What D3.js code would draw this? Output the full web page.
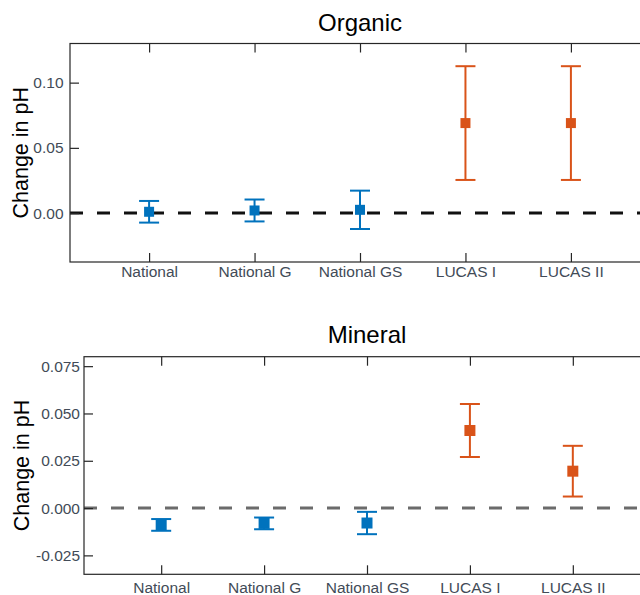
<!DOCTYPE html>
<html>
<head>
<meta charset="utf-8">
<script src="https://cdn.jsdelivr.net/npm/d3@7"></script>
<style>
  body { margin: 0; background: #fff; }
  svg { display: block; font-family: "Liberation Sans", Arial, sans-serif; }
</style>
</head>
<body>
<script>
// categories on the x axis, shared by both panels
var categories = ['National', 'National G', 'National GS', 'LUCAS I', 'LUCAS II'];
var sources = ['national', 'national', 'national', 'lucas', 'lucas'];

// Organic soils: mean change in pH and half-width of the error bar
var organicMean = [0.001, 0.002, 0.0025, 0.069, 0.069];
var organicErr = [0.0083, 0.0084, 0.0147, 0.0436, 0.0436];
var organicTicks = [0, 0.05, 0.10];

// Mineral soils
var mineralMean = [-0.0089, -0.0081, -0.0079, 0.0410, 0.0195];
var mineralErr = [0.0031, 0.0031, 0.0059, 0.0140, 0.0134];
var mineralTicks = [-0.025, 0, 0.025, 0.05, 0.075];

var colors = { national: '#0072BD', lucas: '#D95319' };
var axisColor = '#262626';
var labelColor = '#424b57';

var svg = d3.select('body').append('svg')
  .attr('width', 640).attr('height', 595);

function drawPanel(opt) {
  var x = d3.scaleLinear().domain([0.25, 5.75]).range([opt.left, opt.right]);
  var y = d3.scaleLinear().domain(opt.yDomain).range([opt.bottom, opt.top]);
  var g = svg.append('g');

  var data = categories.map(function (c, i) {
    return { name: c, pos: i + 1, mean: opt.mean[i], err: opt.err[i], src: sources[i] };
  });

  // zero reference line
  g.append('line')
    .attr('x1', opt.left).attr('x2', opt.right)
    .attr('y1', y(0)).attr('y2', y(0))
    .attr('stroke', opt.zeroColor).attr('stroke-width', 3)
    .attr('stroke-dasharray', '13,14');

  // frame
  g.append('rect')
    .attr('x', opt.left).attr('y', opt.top)
    .attr('width', opt.right - opt.left).attr('height', opt.bottom - opt.top)
    .attr('fill', 'none').attr('stroke', axisColor).attr('stroke-width', 1.2);

  // axes, ticks pointing inward
  var xb = g.append('g').attr('transform', 'translate(0,' + opt.bottom + ')')
    .call(d3.axisBottom(x).tickValues(data.map(function (d) { return d.pos; }))
      .tickFormat(function (d) { return categories[d - 1]; })
      .tickSize(-9).tickPadding(opt.xPad));
  var xt = g.append('g').attr('transform', 'translate(0,' + opt.top + ')')
    .call(d3.axisTop(x).tickValues(data.map(function (d) { return d.pos; }))
      .tickFormat('').tickSize(-9));
  var yl = g.append('g').attr('transform', 'translate(' + opt.left + ',0)')
    .call(d3.axisLeft(y).tickValues(opt.ticks)
      .tickFormat(function (d) { return d.toFixed(opt.digits); })
      .tickSize(-9).tickPadding(opt.yPad));
  var yr = g.append('g').attr('transform', 'translate(' + opt.right + ',0)')
    .call(d3.axisRight(y).tickValues(opt.ticks).tickFormat('').tickSize(-9));

  [xb, xt, yl, yr].forEach(function (a) {
    a.select('.domain').remove();
    a.selectAll('.tick line').attr('stroke', axisColor).attr('stroke-width', 1.2);
    a.selectAll('.tick text').attr('fill', labelColor).style('font-size', '15.5px');
  });

  // error bars
  var bars = g.selectAll('.eb').data(data).enter().append('g')
    .attr('stroke', function (d) { return colors[d.src]; })
    .attr('stroke-width', 2);
  bars.append('line')
    .attr('x1', function (d) { return x(d.pos); }).attr('x2', function (d) { return x(d.pos); })
    .attr('y1', function (d) { return y(d.mean + d.err); })
    .attr('y2', function (d) { return y(d.mean - d.err); });
  [1, -1].forEach(function (s) {
    bars.append('line')
      .attr('x1', function (d) { return x(d.pos) - 10; })
      .attr('x2', function (d) { return x(d.pos) + 10; })
      .attr('y1', function (d) { return y(d.mean + s * d.err); })
      .attr('y2', function (d) { return y(d.mean + s * d.err); });
  });

  // square markers
  g.selectAll('.mk').data(data).enter().append('rect')
    .attr('x', function (d) { return x(d.pos) - opt.marker / 2; })
    .attr('y', function (d) { return y(d.mean) - opt.marker / 2; })
    .attr('width', opt.marker).attr('height', opt.marker)
    .attr('fill', function (d) { return colors[d.src]; });

  // title and y label
  g.append('text')
    .attr('x', (opt.left + opt.right) / 2).attr('y', opt.titleY)
    .attr('text-anchor', 'middle').style('font-size', '24px').attr('fill', '#000')
    .text(opt.title);
  g.append('text')
    .attr('transform', 'translate(' + opt.labelX + ',' + (opt.top + opt.bottom) / 2 + ') rotate(-90)')
    .attr('text-anchor', 'middle').style('font-size', '21.5px').attr('fill', '#000')
    .text('Change in pH');
}

drawPanel({
  title: 'Organic', titleY: 31,
  left: 70, right: 650, top: 43.5, bottom: 262,
  yDomain: [-0.0375, 0.13], ticks: organicTicks, digits: 2,
  mean: organicMean, err: organicErr,
  zeroColor: '#111', xPad: 4, yPad: 6.5, labelX: 27.5, marker: 10
});

drawPanel({
  title: 'Mineral', titleY: 343,
  left: 84, right: 650, top: 356.7, bottom: 574.3,
  yDomain: [-0.035, 0.08], ticks: mineralTicks, digits: 3,
  mean: mineralMean, err: mineralErr,
  zeroColor: '#6b6b6b', xPad: 7.5, yPad: 4, labelX: 28.5, marker: 11
});
</script>
</body>
</html>
